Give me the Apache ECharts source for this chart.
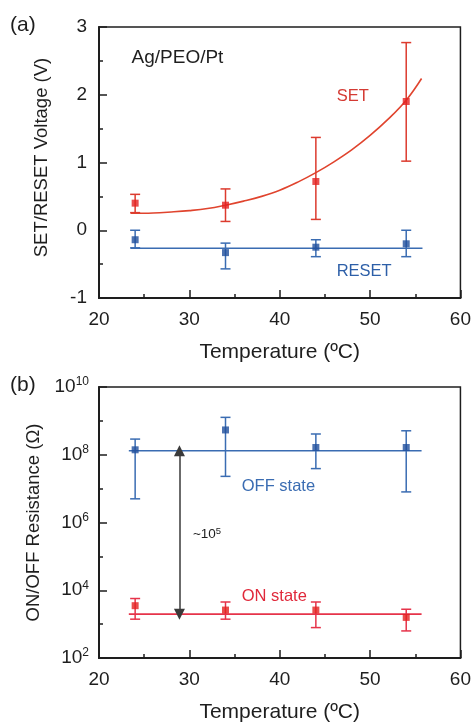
<!DOCTYPE html>
<html>
<head>
<meta charset="utf-8">
<script src="https://cdn.jsdelivr.net/npm/echarts@6/dist/echarts.min.js"></script>
<style>
  html, body { margin: 0; padding: 0; background: #fff; }
  #chart { width: 474px; height: 727px; }
</style>
</head>
<body>
<div id="chart"></div>
<script>
// ---- Panel (a): switching voltages vs temperature ----
const temps = [24, 34, 44, 54];
const setMean = [0.40, 0.37, 0.72, 1.90];
const setLow = [0.26, 0.13, 0.16, 1.02];
const setHigh = [0.53, 0.61, 1.37, 2.77];
const resetMean = [-0.14, -0.33, -0.25, -0.20];
const resetLow = [-0.26, -0.57, -0.39, -0.39];
const resetHigh = [0.00, -0.19, -0.14, 0.00];

// exponential trend through the SET voltages
const setFitX = [23.5, 26, 28, 30, 32, 34, 36, 38, 40, 42, 44, 46, 48, 50, 52, 54, 55.7];
const setFitY = [0.25, 0.255, 0.27, 0.29, 0.32, 0.37, 0.43, 0.50, 0.59, 0.71, 0.85, 1.01, 1.19, 1.40, 1.64, 1.92, 2.24];
// constant RESET level
const resetFitX = [23.5, 55.8];
const resetFitY = [-0.265, -0.265];

// ---- Panel (b): ON/OFF resistance vs temperature ----
const offMean = [1.4e8, 5.4e8, 1.64e8, 1.64e8];
const offLow = [5.0e6, 2.3e7, 3.9e7, 8.0e6];
const offHigh = [2.9e8, 1.27e9, 4.1e8, 5.1e8];
const onMean = [3.5e3, 2.6e3, 2.6e3, 1.58e3];
const onLow = [1.4e3, 1.4e3, 790, 630];
const onHigh = [5.7e3, 4.5e3, 4.5e3, 2.75e3];
const levelX = [23.3, 55.7];
const offLevel = [1.31e8, 1.31e8];
const onLevel = [1.97e3, 1.97e3];
const ratioArrowX = 28.9;

// axis ticks
const tempTicks = { min: 20, max: 60, interval: 10 };
const voltTicks = { min: -1, max: 3, interval: 1 };
const resTicks = { min: 1e2, max: 1e10 };
const resMajor = [1e2, 1e4, 1e6, 1e8, 1e10];
const resMinor = [1e3, 1e5, 1e7, 1e9];

const FONT = '"Liberation Sans", Arial, Helvetica, sans-serif';
const INK = '#1e1e1e';
const RED = '#e3201f';
const RED_LINE = '#e0442e';
const BLUE = '#1f4f9c';
const BLUE_LINE = '#3a6cb2';
const PINK_LINE = '#e6334a';

const chart = echarts.init(document.getElementById('chart'), null, { renderer: 'canvas' });

function errorBars(xi, yi, xs, lo, hi, color) {
  return {
    type: 'custom',
    xAxisIndex: xi,
    yAxisIndex: yi,
    silent: true,
    z: 3,
    encode: { x: 0, y: [1, 2] },
    data: xs.map((t, i) => [t, lo[i], hi[i]]),
    renderItem: function (params, api) {
      const x = api.value(0);
      const a = api.coord([x, api.value(1)]);
      const b = api.coord([x, api.value(2)]);
      const w = 5;
      const style = { stroke: color, lineWidth: 1.5, fill: null };
      return {
        type: 'group',
        children: [
          { type: 'line', shape: { x1: a[0], y1: a[1], x2: b[0], y2: b[1] }, style: style },
          { type: 'line', shape: { x1: a[0] - w, y1: a[1], x2: a[0] + w, y2: a[1] }, style: style },
          { type: 'line', shape: { x1: b[0] - w, y1: b[1], x2: b[0] + w, y2: b[1] }, style: style }
        ]
      };
    }
  };
}

function points(xi, yi, xs, ys, color) {
  return {
    type: 'scatter', xAxisIndex: xi, yAxisIndex: yi,
    symbol: 'rect', symbolSize: 7, z: 4, silent: true,
    itemStyle: { color: color },
    data: xs.map((t, i) => [t, ys[i]])
  };
}

function trend(xi, yi, xs, ys, color, smooth) {
  return {
    type: 'line', xAxisIndex: xi, yAxisIndex: yi,
    showSymbol: false, smooth: smooth ? 0.4 : false, silent: true, z: 2,
    lineStyle: { color: color, width: 1.6 },
    data: xs.map((t, i) => [t, ys[i]])
  };
}

function xAxisFor(gi) {
  return {
    type: 'value', gridIndex: gi,
    min: tempTicks.min, max: tempTicks.max, interval: tempTicks.interval,
    name: 'Temperature (ºC)', nameLocation: 'middle', nameGap: 44,
    nameTextStyle: { fontFamily: FONT, fontSize: 21, color: INK },
    axisLine: { show: true, onZero: false, lineStyle: { color: INK, width: 2 } },
    axisTick: { show: true, inside: true, length: 8, lineStyle: { color: INK, width: 1.5 } },
    minorTick: { show: true, splitNumber: 2, length: 4, lineStyle: { color: INK, width: 1.5 } },
    axisLabel: { fontFamily: FONT, fontSize: 19, color: INK, margin: 12 },
    splitLine: { show: false }
  };
}

const supRich = {
  b: { fontFamily: FONT, fontSize: 19, color: INK, lineHeight: 22 },
  s: { fontFamily: FONT, fontSize: 12, color: INK, verticalAlign: 'top', lineHeight: 22 }
};

const option = {
  animation: false,
  backgroundColor: '#ffffff',
  grid: [
    { left: 99, top: 27, width: 363, height: 271, show: true, borderColor: INK, borderWidth: 1.5, backgroundColor: 'transparent' },
    { left: 99, top: 387, width: 363, height: 271, show: true, borderColor: INK, borderWidth: 1.5, backgroundColor: 'transparent' }
  ],
  xAxis: [xAxisFor(0), xAxisFor(1)],
  yAxis: [
    {
      type: 'value', gridIndex: 0, position: 'left',
      min: voltTicks.min, max: voltTicks.max, interval: voltTicks.interval,
      name: 'SET/RESET Voltage (V)', nameLocation: 'middle', nameGap: 48,
      nameTextStyle: { fontFamily: FONT, fontSize: 18.5, color: INK, padding: [0, 0, 0, 10] },
      axisLine: { show: true, onZero: false, lineStyle: { color: INK, width: 2 } },
      axisTick: { show: true, inside: true, length: 8, lineStyle: { color: INK, width: 1.5 } },
      minorTick: { show: true, splitNumber: 2, length: 4, lineStyle: { color: INK, width: 1.5 } },
      axisLabel: { fontFamily: FONT, fontSize: 19, color: INK, margin: 12 },
      splitLine: { show: false }
    },
    {
      type: 'log', logBase: 10, gridIndex: 1, position: 'left',
      min: resTicks.min, max: resTicks.max,
      name: 'ON/OFF Resistance (Ω)', nameLocation: 'middle', nameGap: 48,
      nameTextStyle: { fontFamily: FONT, fontSize: 18.5, color: INK },
      axisLine: { show: true, onZero: false, lineStyle: { color: INK, width: 2 } },
      axisTick: { show: true, inside: true, length: 8, customValues: resMajor, lineStyle: { color: INK, width: 1.5 } },
      minorTick: { show: false },
      axisLabel: {
        margin: 10,
        customValues: resMajor,
        formatter: function (v) {
          const e = Math.round(Math.log10(v));
          return '{b|10}{s|' + e + '}';
        },
        rich: supRich
      },
      splitLine: { show: false }
    },
    {
      // short ticks at the odd decades, on the same left edge
      type: 'log', logBase: 10, gridIndex: 1, position: 'left', offset: 0,
      min: resTicks.min, max: resTicks.max,
      axisLine: { show: false },
      axisTick: { show: true, inside: true, length: 4, customValues: resMinor, lineStyle: { color: INK, width: 1.5 } },
      axisLabel: { show: false },
      splitLine: { show: false }
    }
  ],
  series: [
    // panel (a)
    trend(0, 0, setFitX, setFitY, RED_LINE, true),
    trend(0, 0, resetFitX, resetFitY, BLUE_LINE, false),
    errorBars(0, 0, temps, setLow, setHigh, '#dc3b2e'),
    errorBars(0, 0, temps, resetLow, resetHigh, BLUE_LINE),
    points(0, 0, temps, setMean, RED),
    points(0, 0, temps, resetMean, BLUE),
    // panel (b)
    Object.assign(trend(1, 1, levelX, offLevel, BLUE_LINE, false), {
      markLine: {
        silent: true,
        symbol: ['triangle', 'triangle'],
        symbolSize: 11,
        label: { show: false },
        lineStyle: { color: '#3a3a3a', width: 1.5, type: 'solid' },
        data: [[{ coord: [ratioArrowX, offLevel[0]] }, { coord: [ratioArrowX, onLevel[0]] }]]
      }
    }),
    trend(1, 1, levelX, onLevel, PINK_LINE, false),
    errorBars(1, 1, temps, offLow, offHigh, BLUE_LINE),
    errorBars(1, 1, temps, onLow, onHigh, PINK_LINE),
    points(1, 1, temps, offMean, BLUE),
    points(1, 1, temps, onMean, RED)
  ]
};

chart.setOption(option);

// text annotations anchored in data coordinates
const notes = [
  { grid: 0, at: [23.6, 2.55], text: 'Ag/PEO/Pt', color: INK, size: 19 },
  { grid: 0, at: [46.3, 1.97], text: 'SET', color: '#d43a33', size: 16.5 },
  { grid: 0, at: [46.3, -0.61], text: 'RESET', color: '#2d5fa8', size: 16.5 },
  { grid: 1, at: [35.8, 1.17e7], text: 'OFF state', color: '#3a6cb2', size: 16.5 },
  { grid: 1, at: [35.8, 6.6e3], text: 'ON state', color: '#e0283a', size: 16.5 },
  { grid: 1, at: [30.4, 4.5e5], text: '~10{s|5}', color: INK, size: 13.5 }
];

const graphics = notes.map(function (n) {
  const p = chart.convertToPixel({ gridIndex: n.grid }, n.at);
  return {
    type: 'text', x: p[0], y: p[1], silent: true,
    style: {
      text: n.text, fill: n.color, font: n.size + 'px ' + FONT,
      align: 'left', verticalAlign: 'middle',
      rich: { s: { fontSize: 9.5, fill: n.color, verticalAlign: 'top', lineHeight: 16, fontFamily: FONT } }
    }
  };
});
graphics.push(
  { type: 'text', x: 10, y: 25, silent: true, style: { text: '(a)', fill: INK, font: '21px ' + FONT, verticalAlign: 'middle' } },
  { type: 'text', x: 10, y: 385, silent: true, style: { text: '(b)', fill: INK, font: '21px ' + FONT, verticalAlign: 'middle' } }
);
chart.setOption({ graphic: graphics });
</script>
</body>
</html>
